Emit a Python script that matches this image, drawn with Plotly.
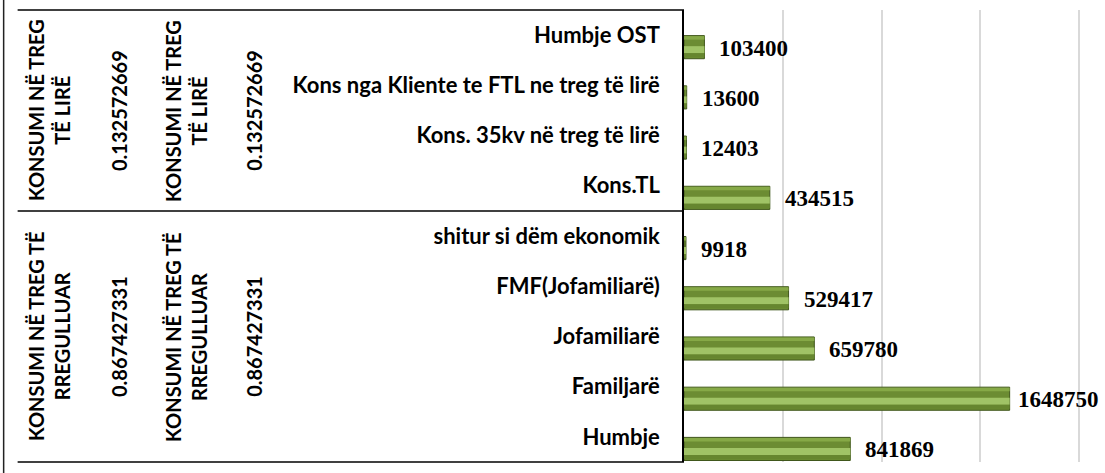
import plotly.graph_objects as go

# ---- data (bottom to top, as in the Excel bar chart) ----
categories = ["Humbje", "Familjarë", "Jofamiliarë", "FMF(Jofamiliarë)",
              "shitur si dëm ekonomik", "Kons.TL", "Kons. 35kv në treg të lirë",
              "Kons nga Kliente te FTL ne treg të lirë", "Humbje OST"]
values = [841869, 1648750, 659780, 529417, 9918, 434515, 12403, 13600, 103400]

group_names = ["KONSUMI NË TREG TË<br>RREGULLUAR", "KONSUMI NË TREG<br>TË LIRË"]
group_shares = ["0.867427331", "0.132572669"]
group_sizes = [5, 4]

x_ticks = [0, 500000, 1000000, 1500000, 2000000]
x_max = 2010000

# ---- layout constants ----
W, H = 1105, 473
ML, MT, MB = 684, 10, 11
PX_PER_UNIT = 395.4 / 2000000
PW = x_max * PX_PER_UNIT
MR = W - ML - PW
PH = H - MT - MB
LABEL_FONT = "Lato"
VAL_FONT = "Liberation Serif"


def px_to_paper_x(px):
    return (px - ML) / PW


def py_to_paper_y(py):
    return (H - MB - py) / PH


fig = go.Figure()

# bevel-like bar made of layered bars
layers = [
    (-0.47, 0.46, "#6C8C33", dict(color="#3F561A", width=1)),
    (-0.09, 0.07, "#86A947", dict(width=0)),
    (-0.36, 0.14, "#A0C366", dict(width=0)),
    (-0.44, 0.08, "#66862F", dict(width=0)),
]
for off, wd, col, ln in layers:
    fig.add_trace(go.Bar(
        y=categories, x=values, orientation="h",
        offset=off, width=wd,
        marker=dict(color=col, line=ln),
        hoverinfo="skip", showlegend=False,
    ))

# value labels
for c, v in zip(categories, values):
    fig.add_annotation(
        x=v, y=c, xref="x", yref="y", text=str(v), showarrow=False,
        xanchor="left", yanchor="middle",
        xshift=6 if v > 1500000 else 13, yshift=-13,
        font=dict(family=VAL_FONT, size=23, color="black", weight="bold"),
    )

# group labels / separators
start = 0
col_centers = [49, 119, 186, 254]
bounds = [-0.5]
for name, share, n in zip(group_names, group_shares, group_sizes):
    yc = start + (n - 1) / 2
    texts = [name, share, name, share]
    for cx, t in zip(col_centers, texts):
        fig.add_annotation(
            x=px_to_paper_x(cx), y=yc, xref="paper", yref="y", text=t,
            showarrow=False, textangle=-90, xanchor="center", yanchor="middle",
            font=dict(family=LABEL_FONT, size=20, color="black", weight="bold"),
        )
    start += n
    bounds.append(start - 0.5)

for b in bounds:
    yp = (b + 0.5) / len(categories)
    fig.add_shape(type="line", xref="paper", yref="paper",
                  x0=px_to_paper_x(17), x1=0, y0=yp, y1=yp,
                  line=dict(color="black", width=1.5))

fig.add_shape(type="line", xref="paper", yref="paper",
              x0=px_to_paper_x(3), x1=px_to_paper_x(3),
              y0=py_to_paper_y(H), y1=py_to_paper_y(0),
              line=dict(color="#222222", width=1.5))

fig.update_layout(
    width=W, height=H,
    margin=dict(l=ML, r=MR, t=MT, b=MB),
    paper_bgcolor="white", plot_bgcolor="white",
    barmode="overlay",
    xaxis=dict(range=[0, x_max], tickvals=x_ticks, showticklabels=False,
               showgrid=True, gridcolor="#D9D9D9", gridwidth=1.5,
               zeroline=False, showline=False, ticks=""),
    yaxis=dict(type="category", categoryorder="array", categoryarray=categories,
               range=[-0.5, 8.5], showgrid=False, zeroline=False,
               showline=True, linecolor="black", linewidth=1.5,
               ticks="", ticklabelstandoff=18,
               tickfont=dict(family=LABEL_FONT, size=22, color="black", weight="bold")),
)

fig.write_html(
    "out.html",
    config={"displayModeBar": False},
    post_script="document.body.style.margin='0';document.body.style.overflow='hidden';",
)
